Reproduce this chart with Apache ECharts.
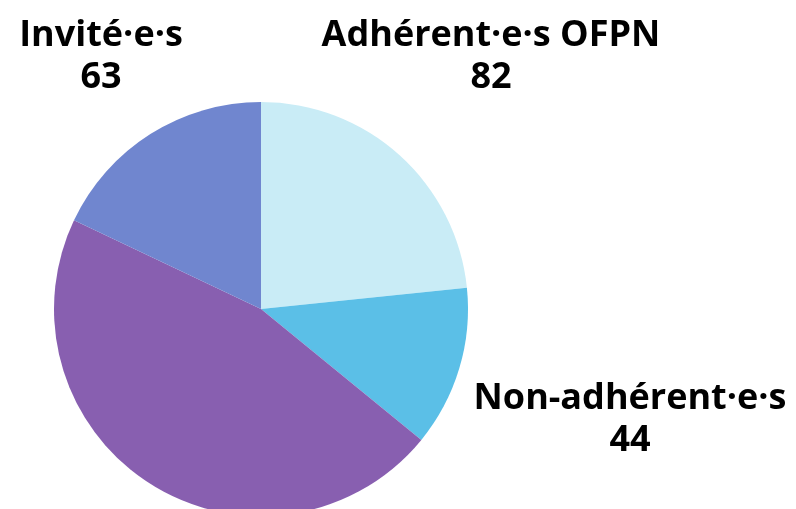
<!DOCTYPE html>
<html>
<head>
<meta charset="utf-8">
<script src="https://cdn.jsdelivr.net/npm/echarts@6/dist/echarts.min.js"></script>
<style>html,body{margin:0;padding:0;background:#fff}#c{width:796px;height:509px}</style>
</head>
<body>
<div id="c"></div>
<script>
const categories = ['Adhérent·e·s OFPN', 'Non-adhérent·e·s', '', 'Invité·e·s'];
const values = [82, 44, 162, 63];
const colors = ['#C9ECF6', '#5BBFE7', '#885FB0', '#7086CF'];
const showLabel = [true, true, false, true];
const labelPos = [[491, 57], [630, 420], [0, 0], [101, 57]];

const chart = echarts.init(document.getElementById('c'), null, {renderer: 'canvas'});
chart.setOption({
  animation: false,
  series: [{
    type: 'pie',
    center: [261, 309],
    radius: 207,
    startAngle: 90,
    clockwise: true,
    avoidLabelOverlap: false,
    data: categories.map((n, i) => ({
      name: n, value: values[i],
      itemStyle: {color: colors[i]},
      label: {show: showLabel[i]}
    })),
    label: {
      position: 'outside',
      formatter: '{b}\n{c}',
      fontFamily: 'Open Sans',
      fontWeight: 'bold',
      fontSize: 36,
      lineHeight: 42,
      color: '#000',
      align: 'center'
    },
    labelLine: {show: false},
    labelLayout: function (p) {
      const pos = labelPos[p.dataIndex];
      return {x: pos[0], y: pos[1], align: 'center', verticalAlign: 'middle'};
    },
    emphasis: {disabled: true}
  }]
});
</script>
</body>
</html>
